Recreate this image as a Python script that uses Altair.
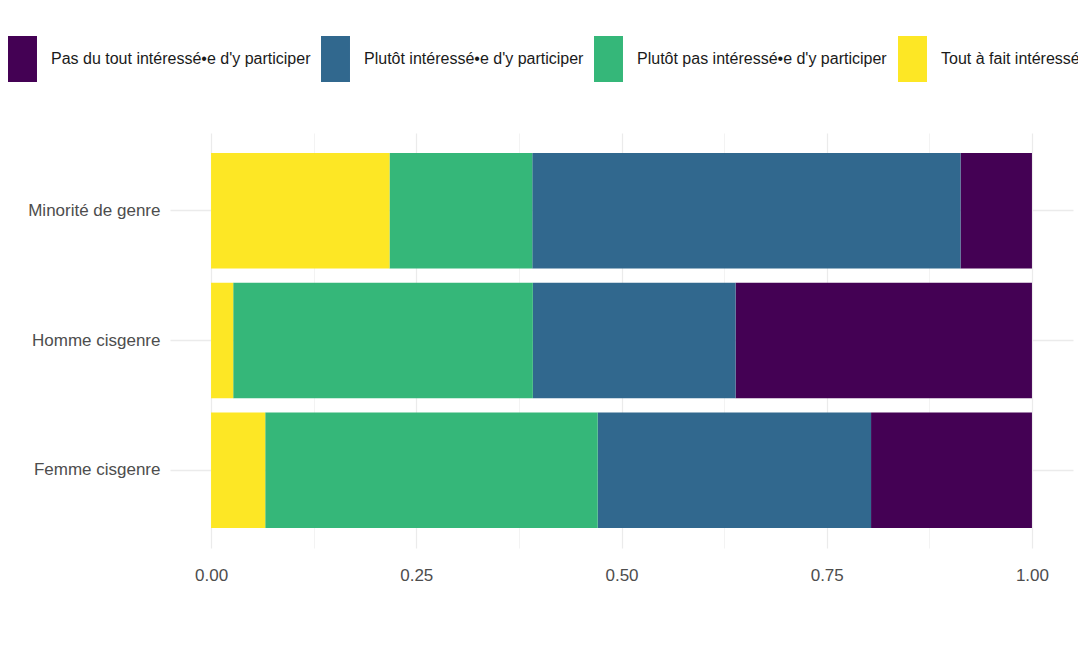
import altair as alt
import pandas as pd

groups = ["Minorité de genre", "Homme cisgenre", "Femme cisgenre"]
responses = [
    "Pas du tout intéressé•e d'y participer",
    "Plutôt intéressé•e d'y participer",
    "Plutôt pas intéressé•e d'y participer",
    "Tout à fait intéressé•e d'y participer",
]
colors = ["#440154", "#31688E", "#35B779", "#FDE725"]
# stacking order from the left: Tout à fait, Plutôt pas, Plutôt, Pas du tout
stack_rank = [3, 2, 1, 0]

pas_du_tout = [0.0870, 0.361, 0.196]
plutot = [0.5217, 0.247, 0.333]
plutot_pas = [0.1739, 0.365, 0.405]
tout_a_fait = [0.2174, 0.027, 0.066]

series = [pas_du_tout, plutot, plutot_pas, tout_a_fait]
rows = []
for r, resp in enumerate(responses):
    for g, grp in enumerate(groups):
        rows.append({"groupe": grp, "reponse": resp, "prop": series[r][g], "ord": stack_rank[r]})
df = pd.DataFrame(rows)

FONT = "Liberation Sans, Arial, sans-serif"

chart = alt.Chart(df).mark_bar().encode(
    x=alt.X(
        "prop:Q",
        stack=True,
        title=None,
        scale=alt.Scale(domain=[-0.05, 1.05], nice=False, zero=False),
        axis=alt.Axis(
            values=[0, 0.125, 0.25, 0.375, 0.5, 0.625, 0.75, 0.875, 1.0],
            labelExpr="(datum.value*4) % 1 == 0 ? format(datum.value, '.2f') : ''",
            domain=False,
            ticks=False,
            grid=True,
            gridColor="#ebebeb",
            gridWidth={"condition": {"test": "(datum.value*4) % 1 == 0", "value": 1.2}, "value": 0.6},
            labelFont=FONT,
            labelFontSize=17,
            labelColor="#4d4d4d",
            labelPadding=19,
        ),
    ),
    y=alt.Y(
        "groupe:N",
        sort=groups,
        title=None,
        scale=alt.Scale(paddingInner=0.11, paddingOuter=0.155),
        axis=alt.Axis(
            domain=False,
            ticks=False,
            grid=True,
            gridColor="#ebebeb",
            gridWidth=1.5,
            bandPosition=0.5,
            labelFont=FONT,
            labelFontSize=17,
            labelColor="#4d4d4d",
            labelPadding=10,
        ),
    ),
    color=alt.Color(
        "reponse:N",
        scale=alt.Scale(domain=responses, range=colors),
        legend=alt.Legend(
            title=None,
            orient="none",
            direction="horizontal",
            legendX=-170.5,
            legendY=-97,
            padding=0,
            symbolType="M-0.63,-1H0.63V1H-0.63Z",
            symbolSize=2116,
            symbolStrokeWidth=0,
            symbolOpacity=1,
            labelOffset=5.5,
            columnPadding=2,
            labelFont=FONT,
            labelFontSize=16,
            labelColor="#1a1a1a",
            labelLimit=1000,
        ),
    ),
    order=alt.Order("ord:Q", sort="ascending"),
).properties(
    width=903,
    height=415,
    autosize=alt.AutoSizeParams(type="none"),
    padding={"left": 162, "top": 125, "right": 5, "bottom": 80},
    background="white",
).configure_view(strokeWidth=0, stroke="transparent")

chart.save("out.html", embed_options={"renderer": "svg", "actions": False})
